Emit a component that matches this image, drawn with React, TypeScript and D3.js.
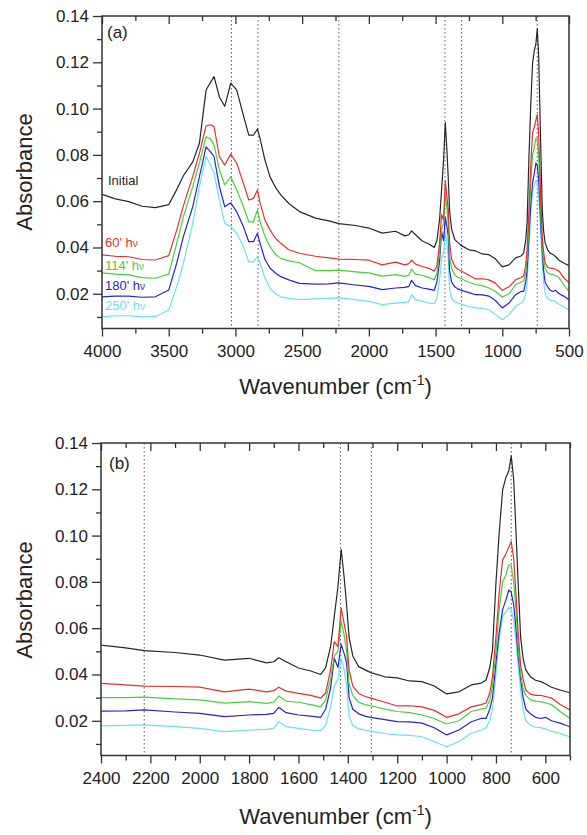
import React, { useRef, useEffect } from 'react';
import * as d3 from 'd3';

// wavenumber grid (cm-1), shared by all spectra
const wavenumbers = [
  4000, 3900, 3800, 3700, 3600, 3500, 3440, 3390, 3320, 3270, 3220, 3190, 3160, 3120, 3080,
  3035, 2990, 2940, 2900, 2865, 2835, 2815, 2780, 2740, 2700, 2660, 2600, 2520, 2400, 2300,
  2225, 2100, 2000, 1900, 1800, 1730, 1700, 1680, 1650, 1600, 1550, 1510, 1490, 1470, 1455,
  1440, 1427, 1415, 1405, 1395, 1380, 1356, 1330, 1307, 1250, 1200, 1150, 1100, 1050, 1000,
  950, 900, 860, 840, 825, 814, 800, 787, 773, 760, 748, 738, 728, 719, 710,
  700, 690, 679, 660, 640, 618, 600, 575, 540, 500
];

const initialAbs = [
  0.063, 0.061, 0.0598, 0.0578, 0.0572, 0.0585, 0.065, 0.071, 0.077, 0.085, 0.108, 0.111, 0.1138, 0.105, 0.101,
  0.111, 0.108, 0.097, 0.0885, 0.0885, 0.0912, 0.087, 0.078, 0.0704, 0.066, 0.0627, 0.059, 0.0555, 0.0527, 0.0515,
  0.0503, 0.0495, 0.0484, 0.0462, 0.047, 0.045, 0.0455, 0.0472, 0.0455, 0.0428, 0.0415, 0.040, 0.043, 0.052, 0.065,
  0.078, 0.094, 0.082, 0.07, 0.056, 0.048, 0.0434, 0.042, 0.0408, 0.039, 0.0385, 0.0372, 0.0369, 0.035, 0.0316,
  0.0325, 0.0355, 0.0363, 0.0376, 0.043, 0.0506, 0.0795, 0.101, 0.1197, 0.125, 0.128, 0.1344, 0.124, 0.102, 0.0795,
  0.056, 0.047, 0.042, 0.039, 0.0375, 0.0369, 0.036, 0.0345, 0.0333, 0.0321
];

const abs60 = [
  0.0368, 0.0362, 0.036, 0.0348, 0.0346, 0.0365, 0.0475, 0.058, 0.0706, 0.0807, 0.0925, 0.093, 0.0922, 0.0792, 0.0756,
  0.0804, 0.0764, 0.0677, 0.0605, 0.0612, 0.0648, 0.0592, 0.052, 0.0475, 0.044, 0.0418, 0.039, 0.0375, 0.0362, 0.0355,
  0.035, 0.0348, 0.0345, 0.0325, 0.0337, 0.0325, 0.033, 0.0345, 0.0328, 0.0318, 0.031, 0.0298, 0.032, 0.042, 0.0542,
  0.052, 0.0687, 0.062, 0.0563, 0.042, 0.035, 0.0318, 0.0305, 0.0298, 0.028, 0.0264, 0.0265, 0.026, 0.0245, 0.0215,
  0.023, 0.026, 0.027, 0.0277, 0.032, 0.039, 0.0563, 0.075, 0.0895, 0.092, 0.095, 0.0974, 0.09, 0.075, 0.058,
  0.044, 0.038, 0.0333, 0.0315, 0.031, 0.031, 0.0305, 0.0298, 0.027, 0.0247
];

const abs114 = [
  0.029, 0.0285, 0.0282, 0.027, 0.0267, 0.0285, 0.0418, 0.0533, 0.0663, 0.0765, 0.0878, 0.087, 0.0843, 0.0735, 0.067,
  0.0706, 0.0648, 0.0576, 0.0511, 0.0511, 0.0562, 0.0511, 0.045, 0.0403, 0.037, 0.0353, 0.0342, 0.0334, 0.030, 0.030,
  0.0302, 0.0295, 0.029, 0.0276, 0.0283, 0.0275, 0.028, 0.0307, 0.0285, 0.028, 0.027, 0.026, 0.029, 0.038, 0.048,
  0.05, 0.0632, 0.057, 0.05, 0.036, 0.031, 0.028, 0.027, 0.0265, 0.025, 0.024, 0.0235, 0.0225, 0.021, 0.0186,
  0.020, 0.024, 0.025, 0.0255, 0.029, 0.035, 0.05, 0.068, 0.08, 0.083, 0.0873, 0.087, 0.08, 0.068, 0.052,
  0.04, 0.034, 0.031, 0.029, 0.0285, 0.0283, 0.0278, 0.027, 0.024, 0.021
];

const abs180 = [
  0.0187, 0.019, 0.019, 0.0185, 0.0187, 0.0216, 0.0332, 0.0447, 0.0576, 0.0706, 0.0835, 0.0815, 0.0792, 0.0663, 0.0576,
  0.0593, 0.0554, 0.049, 0.0425, 0.0425, 0.0461, 0.0418, 0.035, 0.031, 0.029, 0.0274, 0.026, 0.0245, 0.0242, 0.0243,
  0.0247, 0.0238, 0.0232, 0.0218, 0.0225, 0.0228, 0.0232, 0.0258, 0.0235, 0.0225, 0.022, 0.0215, 0.025, 0.034, 0.047,
  0.043, 0.053, 0.049, 0.045, 0.03, 0.025, 0.023, 0.022, 0.0215, 0.0205, 0.0196, 0.0195, 0.019, 0.017, 0.0139,
  0.016, 0.0196, 0.021, 0.021, 0.025, 0.03, 0.045, 0.058, 0.068, 0.072, 0.0765, 0.0755, 0.07, 0.06, 0.048,
  0.038, 0.03, 0.025, 0.023, 0.0215, 0.021, 0.0215, 0.02, 0.019, 0.0174
];

const abs250 = [
  0.0100, 0.0105, 0.0105, 0.010, 0.0102, 0.013, 0.023, 0.0332, 0.0504, 0.0663, 0.0792, 0.076, 0.072, 0.0605, 0.0504,
  0.049, 0.0461, 0.0403, 0.0338, 0.0338, 0.036, 0.0332, 0.027, 0.0224, 0.02, 0.0187, 0.018, 0.0175, 0.0178, 0.018,
  0.0182, 0.0175, 0.0167, 0.0153, 0.016, 0.0163, 0.0167, 0.0196, 0.0175, 0.0167, 0.016, 0.0157, 0.018, 0.026, 0.035,
  0.038, 0.047, 0.042, 0.035, 0.022, 0.018, 0.0165, 0.016, 0.0155, 0.0145, 0.0139, 0.0137, 0.0131, 0.011, 0.0088,
  0.011, 0.0146, 0.016, 0.017, 0.02, 0.025, 0.04, 0.055, 0.065, 0.067, 0.069, 0.068, 0.063, 0.055, 0.044,
  0.033, 0.025, 0.02, 0.018, 0.0172, 0.017, 0.0165, 0.0155, 0.0145, 0.013
];

const seriesNames = ['Initial', "60' h", "114' h", "180' h", "250' h"];
const seriesColors = ['#262626', '#e3302c', '#44d23a', '#2424d0', '#66e2f2'];
const seriesValues = [initialAbs, abs60, abs114, abs180, abs250];

const yTicks = [0.02, 0.04, 0.06, 0.08, 0.10, 0.12, 0.14];
const yMinorTicks = [0.01, 0.03, 0.05, 0.07, 0.09, 0.11, 0.13];
const xTicksA = [4000, 3500, 3000, 2500, 2000, 1500, 1000, 500];
const xMinorA = [3750, 3250, 2750, 2250, 1750, 1250, 750];
const xTicksB = [2400, 2200, 2000, 1800, 1600, 1400, 1200, 1000, 800, 600];
const xMinorB = [2300, 2100, 1900, 1700, 1500, 1300, 1100, 900, 700, 500];
const markersA = [3030, 2830, 2225, 1430, 1305, 738];
const markersB = [2225, 1430, 1305, 738];

const FONT = "'Liberation Sans', Arial, sans-serif";

const App = () => {
  const svgRef = useRef(null);

  useEffect(() => {
    const svg = d3.select(svgRef.current);
    svg.selectAll('*').remove();

    const panels = [
      { id: 'a', domain: [4000, 500], left: 102, right: 569, top: 16, bottom: 328.5,
        ticks: xTicksA, minor: xMinorA, markers: markersA, tag: '(a)', tagX: 107, tagY: 38,
        titleY: 394, yTitleY: 172, legend: true },
      { id: 'b', domain: [2400, 500], left: 101, right: 570, top: 443, bottom: 755.5,
        ticks: xTicksB, minor: xMinorB, markers: markersB, tag: '(b)', tagX: 109, tagY: 469,
        titleY: 824, yTitleY: 600, legend: false }
    ];

    panels.forEach(p => {
      const x = d3.scaleLinear().domain(p.domain).range([p.left, p.right]);
      const y = d3.scaleLinear().domain([0.005, 0.14]).range([p.bottom, p.top]);
      const g = svg.append('g');

      g.append('clipPath').attr('id', 'clip-' + p.id)
        .append('rect')
        .attr('x', p.left).attr('y', p.top)
        .attr('width', p.right - p.left).attr('height', p.bottom - p.top);

      // dotted marker lines
      g.selectAll('line.marker')
        .data(p.markers)
        .enter()
        .append('line')
        .attr('x1', d => x(d)).attr('x2', d => x(d))
        .attr('y1', p.top).attr('y2', p.bottom)
        .attr('stroke', '#555')
        .attr('stroke-width', 1)
        .attr('stroke-dasharray', '1.5,2.5');

      // spectra, lowest first so black ends on top
      const line = d3.line()
        .x(d => x(d[0]))
        .y(d => y(d[1]));
      const curves = g.append('g').attr('clip-path', `url(#clip-${p.id})`);
      for (let s = seriesValues.length - 1; s >= 0; s--) {
        const pts = wavenumbers.map((w, i) => [w, seriesValues[s][i]]);
        curves.append('path')
          .datum(pts)
          .attr('fill', 'none')
          .attr('stroke', seriesColors[s])
          .attr('stroke-width', 1.2)
          .attr('stroke-linejoin', 'round')
          .attr('d', line);
      }

      // axes
      const styleAxis = sel => {
        sel.select('.domain').attr('stroke', '#333').attr('stroke-width', 1.5);
        sel.selectAll('.tick line').attr('stroke', '#333').attr('stroke-width', 1.3);
        sel.selectAll('text').attr('font-family', FONT).attr('font-size', 17).attr('fill', '#222');
      };

      g.append('g')
        .attr('transform', `translate(${p.left},0)`)
        .call(d3.axisLeft(y).tickValues(yTicks).tickSize(9).tickPadding(4).tickFormat(d3.format('.2f')))
        .call(styleAxis);
      g.append('g')
        .attr('transform', `translate(${p.left},0)`)
        .call(d3.axisLeft(y).tickValues(yMinorTicks).tickSize(5).tickFormat(() => ''))
        .call(styleAxis);

      g.append('g')
        .attr('transform', `translate(0,${p.bottom})`)
        .call(d3.axisBottom(x).tickValues(p.ticks).tickSize(8).tickPadding(8).tickFormat(d3.format('d')))
        .call(styleAxis);
      g.append('g')
        .attr('transform', `translate(0,${p.bottom})`)
        .call(d3.axisBottom(x).tickValues(p.minor).tickSize(5).tickFormat(() => ''))
        .call(styleAxis);

      // top axis, ticks pointing into the plot
      g.append('g')
        .attr('transform', `translate(0,${p.top})`)
        .call(d3.axisBottom(x).tickValues(p.ticks).tickSize(8).tickFormat(() => ''))
        .call(styleAxis);
      g.append('g')
        .attr('transform', `translate(0,${p.top})`)
        .call(d3.axisBottom(x).tickValues(p.minor).tickSize(5).tickFormat(() => ''))
        .call(styleAxis);
      g.selectAll('.domain').attr('d', null);

      // frame
      g.append('rect')
        .attr('x', p.left).attr('y', p.top)
        .attr('width', p.right - p.left).attr('height', p.bottom - p.top)
        .attr('fill', 'none').attr('stroke', '#333').attr('stroke-width', 1.5);

      // panel tag
      g.append('text')
        .attr('x', p.tagX).attr('y', p.tagY)
        .attr('font-family', FONT).attr('font-size', 17).attr('fill', '#222')
        .text(p.tag);

      // axis titles
      g.append('text')
        .attr('transform', `translate(32,${p.yTitleY}) rotate(-90)`)
        .attr('text-anchor', 'middle')
        .attr('font-family', FONT).attr('font-size', 22).attr('fill', '#222')
        .text('Absorbance');

      const xt = g.append('text')
        .attr('x', (p.left + p.right) / 2).attr('y', p.titleY)
        .attr('text-anchor', 'middle')
        .attr('font-family', FONT).attr('font-size', 22).attr('fill', '#222');
      xt.append('tspan').text('Wavenumber (cm');
      xt.append('tspan').attr('font-size', 14).attr('dy', -9).text('-1');
      xt.append('tspan').attr('dy', 9).text(')');

      // curve labels
      if (p.legend) {
        const labelY = [185, 247, 270, 290, 310];
        seriesNames.forEach((name, i) => {
          const t = g.append('text')
            .attr('x', i === 0 ? 108 : 105).attr('y', labelY[i])
            .attr('font-family', FONT).attr('font-size', 13)
            .attr('fill', seriesColors[i])
            .text(name);
          if (i > 0) t.append('tspan').attr('font-size', 10).text('\u03bd');
        });
      }
    });
  }, []);

  return (
    <div style={{ position: 'absolute', left: 0, top: 0, width: 587, height: 835, background: '#fff' }}>
      <svg ref={svgRef} width={587} height={835}></svg>
    </div>
  );
};

export default App;
